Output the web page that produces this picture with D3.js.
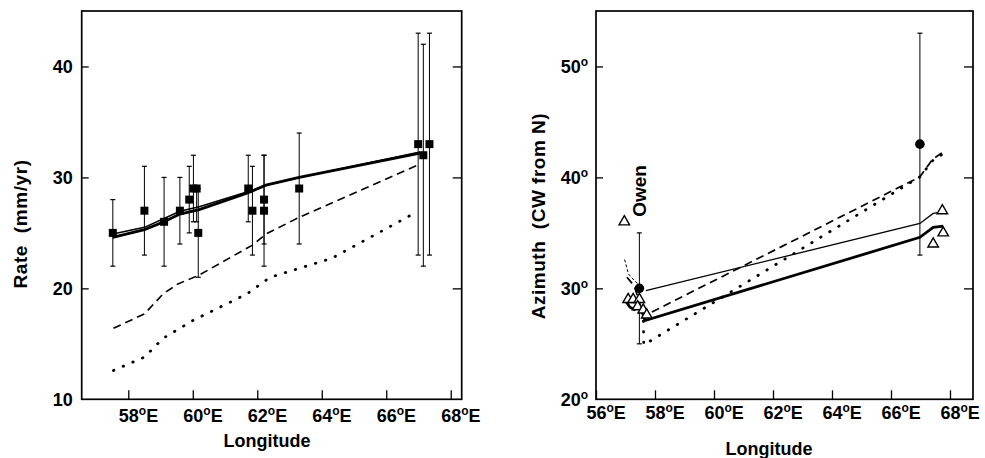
<!DOCTYPE html>
<html>
<head>
<meta charset="utf-8">
<script src="https://cdn.jsdelivr.net/npm/d3@7"></script>
<style>
  html, body { margin: 0; padding: 0; background: #fff; }
  svg { display: block; }
  text { font-family: "Liberation Sans", Arial, Helvetica, sans-serif; font-weight: bold; fill: #000; }
</style>
</head>
<body>
<svg id="chart" width="985" height="458"></svg>
<script>
// ---------- Left panel: Rate (mm/yr) vs Longitude ----------
const rateTicksX = [58, 60, 62, 64, 66, 68];
const rateTicksY = [10, 20, 30, 40];
const rateLon = [57.52, 58.50, 59.11, 59.60, 59.89, 60.02, 60.12, 60.17, 61.72, 61.85, 62.21, 62.21, 63.30, 66.99, 67.15, 67.34];
const rateVal = [25, 27, 26, 27, 28, 29, 29, 25, 29, 27, 28, 27, 29, 33, 32, 33];
const rateLo  = [22, 23, 22, 24, 25, 26, 26, 21, 26, 23, 24, 22, 24, 23, 22, 23];
const rateHi  = [28, 31, 30, 30, 31, 32, 29, 29, 32, 31, 32, 32, 34, 43, 42, 43];

const rateSolidA = [[57.52, 24.6], [58.50, 25.3], [59.11, 26.0], [59.60, 26.7], [60.20, 27.1], [61.70, 28.6], [62.27, 29.3], [63.30, 30.0], [67.05, 32.2]];
const rateSolidB = [[57.52, 24.9], [58.50, 25.5], [59.11, 26.3], [59.60, 26.95], [60.20, 27.35], [61.70, 28.7], [62.27, 29.3], [63.30, 30.0], [67.05, 32.3]];
const rateDashed = [[57.54, 16.4], [58.50, 17.7], [59.08, 19.5], [59.54, 20.4], [60.20, 21.2], [61.85, 23.9], [62.27, 24.9], [63.30, 26.4], [67.05, 31.2]];
const rateDotted = [[57.54, 12.6], [58.50, 13.8], [59.08, 15.5], [60.00, 17.1], [61.68, 19.5], [62.40, 21.0], [64.30, 22.7], [66.77, 26.6]];

// ---------- Right panel: Azimuth vs Longitude ----------
const aziTicksX = [56, 58, 60, 62, 64, 66, 68];
const aziTicksY = [20, 30, 40, 50];
const aziCircLon = [57.47, 66.98];
const aziCircVal = [30, 43];
const aziCircLo  = [25, 33];
const aziCircHi  = [35, 53];
const aziTriLon = [56.96, 57.09, 57.26, 57.47, 57.41, 57.60, 57.72, 67.74, 67.43, 67.77];
const aziTriVal = [36, 29, 29, 29, 28.35, 28.05, 27.6, 37, 34, 35];

const aziThin = [[57.69, 29.8], [66.98, 35.85], [67.43, 36.75], [67.77, 36.9]];
const aziThinDash = [[56.97, 32.6], [57.10, 31.3], [57.30, 30.7], [57.47, 30.3]];
const aziThick = [[56.97, 29.0], [57.15, 28.3], [57.30, 28.1], [57.45, 28.5], [57.55, 28.0], [57.66, 27.1], [66.98, 34.6], [67.43, 35.5], [67.77, 35.6]];
const aziDashed = [[57.05, 31.0], [57.30, 30.2], [57.50, 28.5], [57.62, 27.5], [66.98, 40.05], [67.40, 41.6], [67.77, 42.3]];
const aziDotted = [[57.60, 28.0], [57.62, 24.9], [66.98, 40.05], [67.50, 41.8], [67.77, 42.1]];

const svg = d3.select("#chart");
const TICKFS = 18;

function degLabelsX(g, withE) {
  g.selectAll(".tick text").each(function(d) {
    const t = d3.select(this);
    t.text("");
    const num = t.append("tspan").text(String(d));
    t.append("tspan").text("o").attr("font-size", 12).attr("dy", -7);
    if (withE) t.append("tspan").text("E").attr("dy", 7);
    const w = num.node().getComputedTextLength();
    t.attr("text-anchor", "start").attr("x", -w / 2);
  });
}

function styleAxis(g) {
  g.select(".domain").remove();
  g.selectAll(".tick line").attr("stroke", "#000").attr("stroke-width", 1.3);
  g.selectAll(".tick text").attr("font-size", TICKFS).attr("fill", "#000")
    .style("font-family", '"Liberation Sans", Arial, sans-serif').style("font-weight", "bold");
}

// ===== Left panel =====
const xL = d3.scaleLinear().domain([56.555, 68.34]).range([81.7, 461.7]);
const yL = d3.scaleLinear().domain([10, 45]).range([399.3, 11]);
const gL = svg.append("g");

gL.append("rect").attr("x", xL.range()[0]).attr("y", yL.range()[1])
  .attr("width", xL.range()[1] - xL.range()[0]).attr("height", yL.range()[0] - yL.range()[1])
  .attr("fill", "none").attr("stroke", "#000").attr("stroke-width", 1.7);

const axBL = gL.append("g").attr("transform", `translate(0,${yL.range()[0]})`)
  .call(d3.axisBottom(xL).tickValues(rateTicksX).tickSize(-9).tickPadding(10));
styleAxis(axBL); degLabelsX(axBL, true);

const axLL = gL.append("g").attr("transform", `translate(${xL.range()[0]},0)`)
  .call(d3.axisLeft(yL).tickValues(rateTicksY).tickSize(-7).tickPadding(9));
styleAxis(axLL);
axLL.selectAll(".tick line").filter(d => d === 10).remove();

const axRL = gL.append("g").attr("transform", `translate(${xL.range()[1]},0)`)
  .call(d3.axisRight(yL).tickValues([20, 30, 40]).tickSize(-9).tickFormat(""));
styleAxis(axRL);

gL.append("text").attr("x", 267).attr("y", 447).attr("text-anchor", "middle")
  .attr("font-size", 18).text("Longitude");
gL.append("text").attr("transform", "translate(27,224) rotate(-90)").attr("text-anchor", "middle")
  .attr("font-size", 19).attr("letter-spacing", 0.6).attr("xml:space", "preserve").text("Rate  (mm/yr)");

const line = (xs, ys) => d3.line().x(d => xs(d[0])).y(d => ys(d[1]));

gL.append("path").datum(rateDotted).attr("d", line(xL, yL)).attr("fill", "none")
  .attr("stroke", "#000").attr("stroke-width", 2.8).attr("stroke-linecap", "round").attr("stroke-dasharray", "0.5,10");
gL.append("path").datum(rateDashed).attr("d", line(xL, yL)).attr("fill", "none")
  .attr("stroke", "#000").attr("stroke-width", 1.6).attr("stroke-dasharray", "8,5");

// error bars
const ebL = gL.append("g");
rateLon.forEach((lon, i) => {
  const x = xL(lon);
  ebL.append("line").attr("x1", x).attr("x2", x).attr("y1", yL(rateLo[i])).attr("y2", yL(rateHi[i]))
    .attr("stroke", "#000").attr("stroke-width", 1);
  [rateLo[i], rateHi[i]].forEach(v => ebL.append("line").attr("x1", x - 2.5).attr("x2", x + 2.5)
    .attr("y1", yL(v)).attr("y2", yL(v)).attr("stroke", "#000").attr("stroke-width", 1.2));
});

gL.append("path").datum(rateSolidB).attr("d", line(xL, yL)).attr("fill", "none")
  .attr("stroke", "#000").attr("stroke-width", 1.5);
gL.append("path").datum(rateSolidA).attr("d", line(xL, yL)).attr("fill", "none")
  .attr("stroke", "#000").attr("stroke-width", 2.8);

gL.selectAll("rect.sq").data(rateLon).enter().append("rect").attr("class", "sq")
  .attr("x", d => xL(d) - 4).attr("y", (d, i) => yL(rateVal[i]) - 4)
  .attr("width", 8).attr("height", 8).attr("fill", "#000");

// ===== Right panel =====
const xR = d3.scaleLinear().domain([56, 68.78]).range([596, 973]);
const yR = d3.scaleLinear().domain([20, 55]).range([399.3, 11]);
const gR = svg.append("g");

gR.append("rect").attr("x", xR.range()[0]).attr("y", yR.range()[1])
  .attr("width", xR.range()[1] - xR.range()[0]).attr("height", yR.range()[0] - yR.range()[1])
  .attr("fill", "none").attr("stroke", "#000").attr("stroke-width", 1.7);

const axBR = gR.append("g").attr("transform", `translate(0,${yR.range()[0]})`)
  .call(d3.axisBottom(xR).tickValues(aziTicksX).tickSize(-9).tickPadding(7));
styleAxis(axBR); degLabelsX(axBR, true);

const axLR = gR.append("g").attr("transform", `translate(${xR.range()[0]},0)`)
  .call(d3.axisLeft(yR).tickValues(aziTicksY).tickSize(-7).tickPadding(0));
styleAxis(axLR);
axLR.selectAll(".tick line").filter(d => d === 20).remove();
axLR.selectAll(".tick text").each(function(d) {
  const t = d3.select(this);
  t.text("");
  t.append("tspan").text(String(d));
  t.append("tspan").text("o").attr("font-size", 12).attr("dy", -7);
  t.attr("text-anchor", "end").attr("x", -8);
});

const axRR = gR.append("g").attr("transform", `translate(${xR.range()[1]},0)`)
  .call(d3.axisRight(yR).tickValues([30, 40, 50]).tickSize(-9).tickFormat(""));
styleAxis(axRR);

gR.append("text").attr("x", 769).attr("y", 455).attr("text-anchor", "middle")
  .attr("font-size", 18).text("Longitude");
gR.append("text").attr("transform", "translate(545,216) rotate(-90)").attr("text-anchor", "middle")
  .attr("font-size", 19).attr("letter-spacing", 0.5).attr("xml:space", "preserve").text("Azimuth  (CW from N)");
gR.append("text").attr("transform", "translate(646,191) rotate(-90)").attr("text-anchor", "middle")
  .attr("font-size", 19).text("Owen");

// error bars
aziCircLon.forEach((lon, i) => {
  const x = xR(lon);
  gR.append("line").attr("x1", x).attr("x2", x).attr("y1", yR(aziCircLo[i])).attr("y2", yR(aziCircHi[i]))
    .attr("stroke", "#000").attr("stroke-width", 1);
  [aziCircLo[i], aziCircHi[i]].forEach(v => gR.append("line").attr("x1", x - 2.5).attr("x2", x + 2.5)
    .attr("y1", yR(v)).attr("y2", yR(v)).attr("stroke", "#000").attr("stroke-width", 1.2));
});

gR.append("path").datum(aziDotted).attr("d", line(xR, yR)).attr("fill", "none")
  .attr("stroke", "#000").attr("stroke-width", 2.8).attr("stroke-linecap", "round").attr("stroke-dasharray", "0.5,10");
gR.append("path").datum(aziDashed).attr("d", line(xR, yR)).attr("fill", "none")
  .attr("stroke", "#000").attr("stroke-width", 1.7).attr("stroke-dasharray", "8,5");
gR.append("path").datum(aziThinDash).attr("d", line(xR, yR)).attr("fill", "none")
  .attr("stroke", "#000").attr("stroke-width", 1).attr("stroke-dasharray", "3,2");
gR.append("path").datum(aziThin).attr("d", line(xR, yR)).attr("fill", "none")
  .attr("stroke", "#000").attr("stroke-width", 1.3);
gR.append("path").datum(aziThick).attr("d", line(xR, yR)).attr("fill", "none")
  .attr("stroke", "#000").attr("stroke-width", 2.8);

const tri = d3.symbol().type(d3.symbolTriangle).size(48);
gR.selectAll("path.tri").data(aziTriLon).enter().append("path").attr("class", "tri")
  .attr("d", tri).attr("transform", (d, i) => `translate(${xR(d)},${yR(aziTriVal[i])})`)
  .attr("fill", "#fff").attr("stroke", "#000").attr("stroke-width", 1.4);

gR.selectAll("circle.c").data(aziCircLon).enter().append("circle").attr("class", "c")
  .attr("cx", d => xR(d)).attr("cy", (d, i) => yR(aziCircVal[i])).attr("r", 4.8).attr("fill", "#000");
</script>
</body>
</html>
